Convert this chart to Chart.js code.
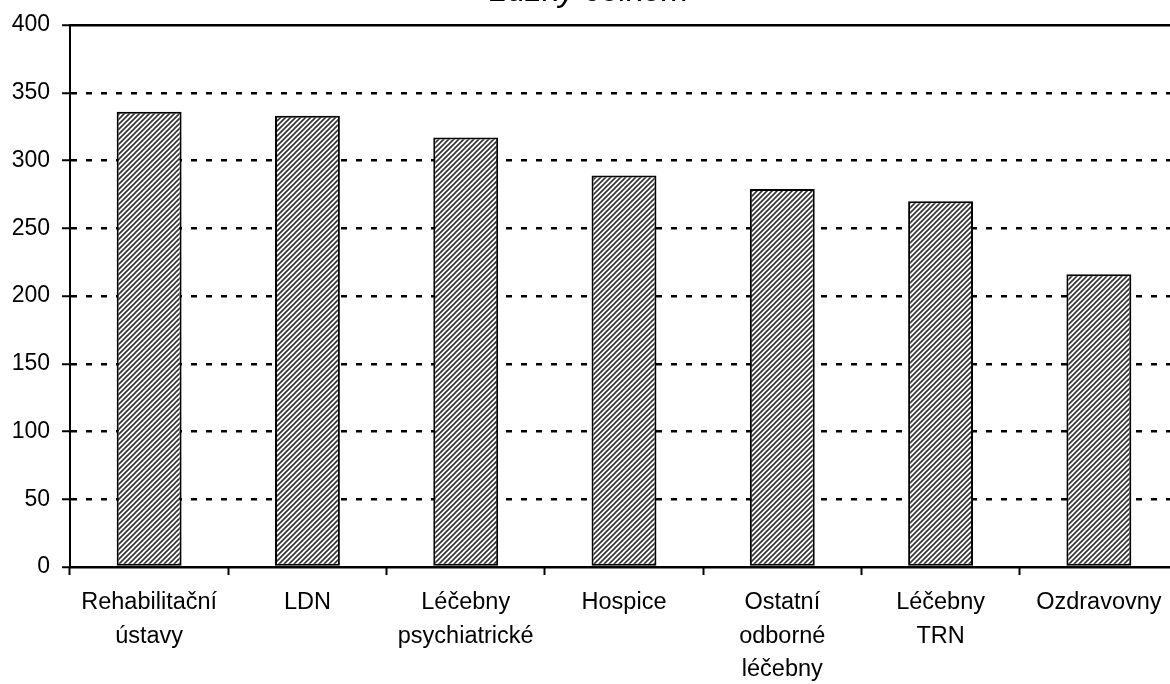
<!DOCTYPE html>
<html lang="cs">
<head>
<meta charset="UTF-8">
<title>Lůžky celkem</title>
<script src="https://cdn.jsdelivr.net/npm/chart.js"></script>
<style>
  html, body { margin: 0; padding: 0; background: #fff; overflow: hidden; }
  #wrap { position: absolute; left: 0; top: -32px; width: 1178px; height: 716px; }
</style>
</head>
<body>
<div id="wrap"><canvas id="graf"></canvas></div>
<script>
// data
const kategorie = [
  ['Rehabilitační', 'ústavy'],
  'LDN',
  ['Léčebny', 'psychiatrické'],
  'Hospice',
  ['Ostatní', 'odborné', 'léčebny'],
  ['Léčebny', 'TRN'],
  'Ozdravovny'
];
const hodnoty = [336, 333, 317, 289, 279, 270, 216];
const osaY = { min: 0, max: 400, krok: 50 };
const nadpis = 'Lůžky celkem';

// šrafování sloupců
function srafa() {
  const s = 5;
  const c = document.createElement('canvas');
  c.width = s; c.height = s;
  const g = c.getContext('2d');
  g.fillStyle = '#fff';
  g.fillRect(0, 0, s, s);
  g.strokeStyle = '#333';
  g.lineWidth = 1.6;
  g.beginPath();
  g.moveTo(-1, s + 1); g.lineTo(s + 1, -1);
  g.moveTo(-1, 1); g.lineTo(1, -1);
  g.moveTo(s - 1, s + 1); g.lineTo(s + 1, s - 1);
  g.stroke();
  return g.createPattern(c, 'repeat');
}

const ctx = document.getElementById('graf').getContext('2d');
const font = { family: 'Liberation Sans, Arial, sans-serif', size: 23.5, lineHeight: 1.42 };

new Chart(ctx, {
  type: 'bar',
  data: {
    labels: kategorie,
    datasets: [{
      data: hodnoty,
      backgroundColor: srafa(),
      borderColor: '#000',
      borderWidth: 2,
      borderSkipped: false,
      categoryPercentage: 1,
      barPercentage: 0.41
    }]
  },
  options: {
    responsive: true,
    maintainAspectRatio: false,
    animation: false,
    layout: { padding: 0 },
    plugins: {
      legend: { display: false },
      tooltip: { enabled: false },
      title: {
        display: true,
        text: nadpis,
        color: '#000',
        font: { family: 'Liberation Sans, Arial, sans-serif', size: 33, style: 'italic', weight: 'normal', lineHeight: 1.2 },
        padding: { top: 4, bottom: 13.4 }
      }
    },
    scales: {
      x: {
        offset: true,
        grid: { display: true, offset: true, drawOnChartArea: false, drawTicks: true, tickLength: 8, tickColor: '#000', tickWidth: 2 },
        border: { display: true, color: '#000', width: 2 },
        ticks: { color: '#000', font: font, padding: 11, maxRotation: 0, autoSkip: false },
        afterFit: s => { s.height = 117; }
      },
      y: {
        min: osaY.min,
        max: osaY.max,
        ticks: { stepSize: osaY.krok, color: '#000', font: { family: font.family, size: 23 }, padding: 12 },
        grid: { color: '#000', lineWidth: 2.5, tickLength: 8, tickColor: '#000', tickWidth: 2 },
        border: {
          display: true, color: '#000', width: 2,
          dash: c => (c.tick && (c.tick.value === osaY.max || c.tick.value === 0)) ? [] : [6, 9]
        },
        afterFit: s => { s.width = 70; }
      }
    }
  }
});
</script>
</body>
</html>
